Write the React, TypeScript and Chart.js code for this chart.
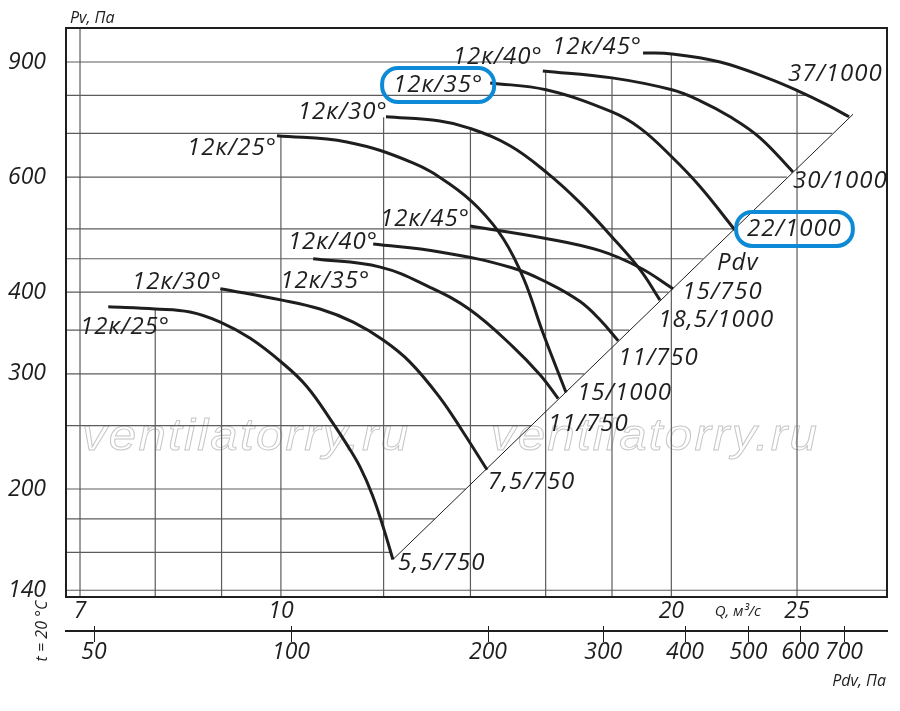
import React, { useEffect, useRef } from "react";
import { Chart, registerables } from "chart.js";

Chart.register(...registerables);

// ---- axis ranges / ticks ----
const Q_MIN = 6.828;
const Q_MAX = 29.33;
const PV_MIN = 136.7;
const PV_MAX = 1014.5;
const PDV_MIN = 45.31;
const PDV_MAX = 814.3;

const Q_TICKS = [7, 10, 20, 25];
const PV_TICKS = [140, 200, 300, 400, 600, 900];
const PDV_TICKS = [50, 100, 200, 300, 400, 500, 600, 700];

// ---- fan curves [Q m3/s, Pv Pa] ----
const curve750_25 = [[7.36, 380], [8.0, 377], [8.51, 373], [8.98, 360], [9.47, 340], [10.02, 312], [10.47, 287], [10.97, 252], [11.24, 234], [11.51, 216], [11.76, 196], [11.99, 175], [12.2, 156]];
const curve750_30 = [[8.98, 405], [10.02, 389], [10.72, 377], [11.37, 360], [11.99, 338], [12.57, 313], [13.26, 276], [13.79, 246], [14.42, 214]];
const curve750_35 = [[10.59, 450], [11.93, 437], [13.03, 407], [13.99, 376], [15.1, 330], [15.84, 299], [16.36, 275]];
const curve750_40 = [[11.78, 474], [13.26, 461], [15.07, 436], [16.12, 412], [17.01, 387], [17.62, 363], [18.2, 337]];
const curve750_45 = [[13.99, 505], [16.04, 483], [17.62, 463], [18.92, 436], [20.06, 405]];
const curve1000_25 = [[9.93, 694], [11.24, 679], [12.64, 631], [13.5, 585], [14.2, 538], [14.85, 482], [15.4, 418], [15.92, 347], [16.59, 281]];
const curve1000_30 = [[12.05, 742], [13.26, 731], [13.97, 713], [15.02, 670], [16.04, 609], [17.01, 548], [18.0, 486], [18.92, 433], [19.6, 389]];
const curve1000_35 = [[14.5, 836], [16.01, 816], [18.0, 755], [18.92, 713], [20.02, 644], [21.05, 580], [22.39, 498]];
const curve1000_40 = [[15.92, 872], [18.0, 851], [20.02, 816], [21.05, 785], [22.2, 742], [23.41, 689], [24.82, 611]];
const curve1000_45 = [[19.02, 929], [20.02, 926], [21.81, 900], [23.7, 851], [25.04, 813], [26.37, 774], [27.42, 742]];

const CURVES = [curve750_25, curve750_30, curve750_35, curve750_40, curve750_45, curve1000_25, curve1000_30, curve1000_35, curve1000_40, curve1000_45];

// dynamic pressure line (Pdv)
const PDV_LINE = [[12.2, 156], [27.62, 749]];

// ---- grid (hand-drawn style, clipped) ----
const GRID_Q = [7, 8, 9, 10, 12, 14, 16, 18, 20, 25];
const GRID_Q_TOP = [PV_MAX, 377, 405, 693, 741, 713, 872, 851, 926, 813];
const GRID_PV = [140, 160, 180, 200, 250, 300, 350, 400, 450, 500, 600, 700, 800, 900];
const GRID_PV_END = [Q_MAX, 12.15, 13.14, 13.88, 15.59, 17.14, 18.56, 19.9, 21.15, 22.33, 24.55, 26.61, 25.5, 21.8];

// ---- labels ----
const START_LABELS = ["12к/25°", "12к/30°", "12к/35°", "12к/40°", "12к/45°", "12к/25°", "12к/30°", "12к/35°", "12к/40°", "12к/45°"];
const START_Q = [8.214, 9.007, 11.72, 11.88, 13.99, 9.931, 12.09, 14.32, 15.92, 18.99];
const START_PV = [353.9, 414.8, 416.2, 477.5, 517.6, 664.8, 754.7, 829.9, 915.9, 948.8];
const END_LABELS = ["5,5/750", "7,5/750", "11/750", "11/750", "15/750", "15/1000", "18,5/1000", "22/1000", "30/1000", "37/1000", "Pdv"];
const END_Q = [12.31, 14.44, 16.07, 18.2, 20.39, 16.92, 19.54, 22.88, 24.82, 24.6, 21.69];
const END_PV = [154.1, 205.0, 251.6, 317.3, 400.3, 280.5, 362.7, 499.8, 591.9, 862.8, 443.4];
const HIGHLIGHT_START = [7];
const HIGHLIGHT_END = [7];

const WATERMARK = "ventilatorry.ru";

const FONT = "'Open Sans', 'DejaVu Sans', sans-serif";
const WM_FONT = "'Liberation Sans', Arial, sans-serif";
const INK = "#1e1e1e";
const GRID = "#5c5c5c";
const BLUE = "#0d8ad6";

function roundRect(ctx: CanvasRenderingContext2D, x: number, y: number, w: number, h: number, r: number) {
  ctx.beginPath();
  ctx.moveTo(x + r, y);
  ctx.lineTo(x + w - r, y);
  ctx.arcTo(x + w, y, x + w, y + r, r);
  ctx.lineTo(x + w, y + h - r);
  ctx.arcTo(x + w, y + h, x + w - r, y + h, r);
  ctx.lineTo(x + r, y + h);
  ctx.arcTo(x, y + h, x, y + h - r, r);
  ctx.lineTo(x, y + r);
  ctx.arcTo(x, y, x + r, y, r);
  ctx.closePath();
}

export default function App() {
  const ref = useRef<HTMLCanvasElement>(null);

  useEffect(() => {
    const canvas = ref.current;
    if (!canvas) return;
    const tickFont = { family: FONT, size: 23, style: "italic" as const, weight: "normal" as const };

    const datasets: any[] = [];
    CURVES.forEach((c) => {
      datasets.push({
        data: c.map(([x, y]) => ({ x, y })),
        borderColor: INK,
        borderWidth: 3,
        pointRadius: 0,
        fill: false,
        tension: 0.4,
        order: 0,
      });
    });
    datasets.push({
      data: PDV_LINE.map(([x, y]) => ({ x, y })),
      borderColor: INK,
      borderWidth: 1,
      pointRadius: 0,
      fill: false,
      tension: 0,
      order: 1,
    });
    GRID_Q.forEach((q, i) => {
      datasets.push({
        data: [{ x: q, y: PV_MIN }, { x: q, y: GRID_Q_TOP[i] }],
        borderColor: GRID,
        borderWidth: 1.2,
        pointRadius: 0,
        fill: false,
        tension: 0,
        order: 2,
      });
    });
    GRID_PV.forEach((p, i) => {
      datasets.push({
        data: [{ x: Q_MIN, y: p }, { x: GRID_PV_END[i], y: p }],
        borderColor: GRID,
        borderWidth: 1.2,
        pointRadius: 0,
        fill: false,
        tension: 0,
        order: 2,
      });
    });

    const deco = {
      id: "deco",
      beforeDatasetsDraw(chart: any) {
        const ctx: CanvasRenderingContext2D = chart.ctx;
        const a = chart.chartArea;
        const W = a.right - a.left;
        const H = a.bottom - a.top;
        ctx.save();
        ctx.font = `italic 44px ${WM_FONT}`;
        const stretch = 1.12;
        const w = ctx.measureText(WATERMARK).width * stretch;
        const spacing = Math.max(0, (W * 0.4 - w) / WATERMARK.length / stretch);
        (ctx as any).letterSpacing = `${spacing}px`;
        ctx.textAlign = "center";
        ctx.textBaseline = "alphabetic";
        ctx.strokeStyle = "#c6c6c6";
        ctx.lineWidth = 0.9;
        const wy = a.top + H * 0.7417;
        [0.218, 0.716].forEach((f) => {
          ctx.save();
          ctx.translate(a.left + W * f, wy);
          ctx.scale(stretch, 1);
          ctx.strokeText(WATERMARK, spacing / 2, 0);
          ctx.restore();
        });
        (ctx as any).letterSpacing = "0px";
        ctx.restore();
      },
      afterDraw(chart: any) {
        const ctx: CanvasRenderingContext2D = chart.ctx;
        const a = chart.chartArea;
        const xs = chart.scales.x;
        const ys = chart.scales.y;
        const x2 = chart.scales.x2;
        ctx.save();
        // frame
        ctx.strokeStyle = INK;
        ctx.lineWidth = 2;
        ctx.strokeRect(a.left, a.top, a.right - a.left, a.bottom - a.top);
        // Pdv tick marks
        ctx.lineWidth = 1;
        x2.ticks.forEach((t: any) => {
          const px = Math.round(x2.getPixelForValue(t.value)) + 0.5;
          ctx.beginPath();
          ctx.moveTo(px, x2.top - 5);
          ctx.lineTo(px, x2.top + 11);
          ctx.stroke();
        });
        // curve labels
        ctx.fillStyle = INK;
        ctx.font = `italic 24px ${FONT}`;
        (ctx as any).letterSpacing = "1px";
        ctx.textBaseline = "middle";
        const box = (l: number, r: number, cy: number) => {
          ctx.save();
          ctx.strokeStyle = BLUE;
          ctx.lineWidth = 4;
          roundRect(ctx, l - 11, cy - 17, r - l + 22, 34, 16);
          ctx.stroke();
          ctx.restore();
        };
        START_LABELS.forEach((s, i) => {
          const px = xs.getPixelForValue(START_Q[i]);
          const py = ys.getPixelForValue(START_PV[i]);
          ctx.textAlign = "right";
          ctx.fillText(s, px, py);
          if (HIGHLIGHT_START.includes(i)) {
            const w = ctx.measureText(s).width;
            box(px - w, px, py);
          }
        });
        END_LABELS.forEach((s, i) => {
          const px = xs.getPixelForValue(END_Q[i]);
          const py = ys.getPixelForValue(END_PV[i]);
          ctx.textAlign = "left";
          ctx.fillText(s, px, py);
          if (HIGHLIGHT_END.includes(i)) {
            const w = ctx.measureText(s).width;
            box(px, px + w, py);
          }
        });
        (ctx as any).letterSpacing = "0px";
        // axis titles
        ctx.font = `italic 16px ${FONT}`;
        ctx.textAlign = "left";
        ctx.fillText("Pv, Па", a.left + 4, a.top - 10);
        ctx.font = `italic 15px ${FONT}`;
        ctx.fillText("Q, м³/с", xs.getPixelForValue(21.6), a.bottom + 15);
        ctx.font = `italic 16px ${FONT}`;
        ctx.textAlign = "right";
        ctx.fillText("Pdv, Па", a.right - 1, x2.top + 50);
        ctx.save();
        ctx.translate(42, x2.top);
        ctx.rotate(-Math.PI / 2);
        ctx.textAlign = "center";
        ctx.fillText("t = 20 °C", 0, 0);
        ctx.restore();
        ctx.restore();
      },
    };

    const chart = new Chart(canvas, {
      type: "line",
      data: { datasets },
      options: {
        responsive: false,
        animation: false,
        devicePixelRatio: 1,
        layout: { padding: { left: 0, top: 28, right: 13, bottom: 0 } },
        plugins: { legend: { display: false }, tooltip: { enabled: false } },
        scales: {
          x: {
            type: "logarithmic",
            position: "bottom",
            min: Q_MIN,
            max: Q_MAX,
            weight: 0,
            grid: { display: false, drawTicks: false },
            border: { display: false },
            afterBuildTicks: (s: any) => {
              s.ticks = Q_TICKS.map((v) => ({ value: v }));
            },
            afterFit: (s: any) => {
              s.height = 34;
            },
            ticks: {
              autoSkip: false,
              maxRotation: 0,
              padding: 1,
              color: INK,
              font: tickFont,
              callback: (v: any) => String(v),
            },
          },
          x2: {
            type: "logarithmic",
            position: "bottom",
            min: PDV_MIN,
            max: PDV_MAX,
            weight: 1,
            grid: { display: false, drawTicks: false },
            border: { display: true, color: INK, width: 2 },
            afterBuildTicks: (s: any) => {
              s.ticks = PDV_TICKS.map((v) => ({ value: v }));
            },
            afterFit: (s: any) => {
              s.height = 80;
            },
            ticks: {
              autoSkip: false,
              maxRotation: 0,
              padding: 8,
              color: INK,
              font: tickFont,
              callback: (v: any) => String(v),
            },
          },
          y: {
            type: "logarithmic",
            position: "left",
            min: PV_MIN,
            max: PV_MAX,
            grid: {
              display: true,
              drawOnChartArea: false,
              drawTicks: true,
              tickLength: 20,
              color: "rgba(0,0,0,0)",
            },
            border: { display: false },
            afterBuildTicks: (s: any) => {
              s.ticks = PV_TICKS.map((v) => ({ value: v }));
            },
            afterFit: (s: any) => {
              s.width = 66;
            },
            ticks: {
              autoSkip: false,
              padding: 0,
              color: INK,
              font: tickFont,
              callback: (v: any) => String(v),
            },
          },
        },
      } as any,
      plugins: [deco],
    });
    return () => chart.destroy();
  }, []);

  return (
    <div style={{ position: "absolute", left: 0, top: 0, width: 900, height: 711, background: "#fff" }}>
      <canvas ref={ref} width={900} height={711} style={{ display: "block" }} />
    </div>
  );
}
